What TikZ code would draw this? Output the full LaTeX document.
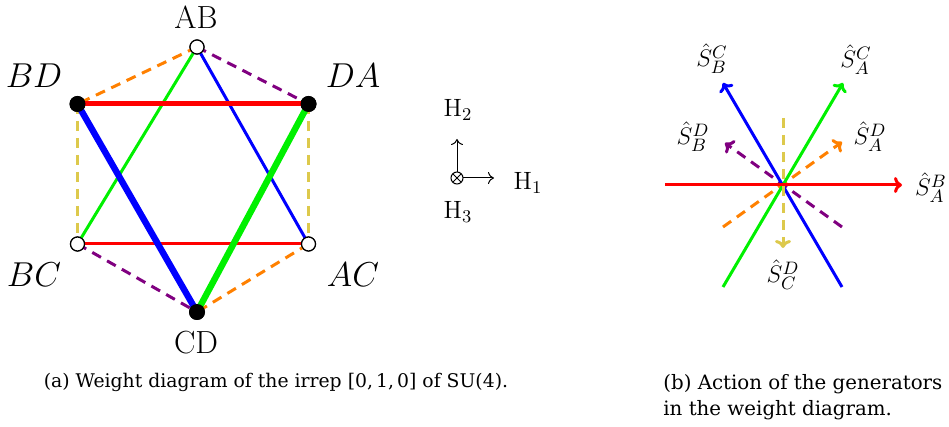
\documentclass[tikz,border=0pt]{standalone}
\usepackage{fontspec}
\newfontfamily\capfont{DejaVu Serif}
\usetikzlibrary{arrows.meta,calc}
\definecolor{cred}{RGB}{255,0,0}
\definecolor{cgreen}{RGB}{0,240,0}
\definecolor{cblue}{RGB}{0,0,255}
\definecolor{corange}{RGB}{255,128,0}
\definecolor{cpurple}{RGB}{128,0,128}
\definecolor{cyellow}{RGB}{221,201,76}
\tikzset{
  openw/.style={circle,draw=black,fill=white,line width=0.6pt,minimum size=7pt,inner sep=0pt},
  fullw/.style={circle,fill=black,minimum size=8pt,inner sep=0pt},
  biglab/.style={inner sep=0pt,font=\fontsize{16}{19}\selectfont},
  smalllab/.style={inner sep=0pt,font=\fontsize{12.5}{15}\selectfont},
  thinl/.style={line width=1.5pt},
  thickl/.style={line width=2.5pt},
  fatl/.style={line width=3.2pt},
  dashl/.style={line width=1.5pt,dash pattern=on 5pt off 3.5pt},
  arr/.style={line width=1.5pt,-{To[length=4pt,width=8pt]}},
  darr/.style={line width=1.5pt,dash pattern=on 5pt off 3.5pt,-{To[length=4pt,width=8pt]}},
  caplab/.style={inner sep=0pt,font=\capfont\fontsize{9.9}{13}\selectfont}
}
\begin{document}
\begin{tikzpicture}[x=0.5pt,y=-0.5pt]
\useasboundingbox (0,0) rectangle (949,427);
% hexagon weights
\node[openw] (AB) at (197,47) {};
\node[fullw] (BD) at (77.5,104) {};
\node[fullw] (DA) at (308.5,104) {};
\node[openw] (BC) at (77.5,244) {};
\node[openw] (AC) at (308.5,244) {};
\node[fullw] (CD) at (197,312) {};
% edges
\draw[dashl,corange] (AB.center) -- (BD.center);
\draw[dashl,corange] (AC.center) -- (CD.center);
\draw[dashl,cpurple] (AB.center) -- (DA.center);
\draw[dashl,cpurple] (BC.center) -- (CD.center);
\draw[dashl,cyellow] (BD.center) -- (BC.center);
\draw[dashl,cyellow] (DA.center) -- (AC.center);
\draw[thinl,cgreen] (AB.center) -- (BC.center);
\draw[thinl,cblue] (AB.center) -- (AC.center);
\draw[thinl,cred] (BC.center) -- (AC.center);
\draw[thickl,cred] (BD.center) -- (DA.center);
\draw[fatl,cblue] (BD.center) -- (CD.center);
\draw[fatl,cgreen] (DA.center) -- (CD.center);
% redraw nodes on top
\node[openw] at (AB) {};
\node[fullw] at (BD) {};
\node[fullw] at (DA) {};
\node[openw] at (BC) {};
\node[openw] at (AC) {};
\node[fullw] at (CD) {};
% labels
\node[biglab] (lAB) at (196,17) {AB};
\node[biglab] (lCD) at (196,343) {CD};
\node[biglab] (lBD) at (34,76) {$BD$};
\node[biglab] (lDA) at (353,76) {$DA$};
\node[biglab] (lBC) at (34,275) {$BC$};
\node[biglab] (lAC) at (353,275) {$AC$};
% axes
\coordinate (O) at (457,178);
\coordinate (Oup) at (457,139);
\coordinate (Ort) at (494,178);
\draw[line width=0.5pt] (O) circle (3pt);
\draw[line width=0.5pt] ($(O)+(-4.2,-4.2)$) -- ($(O)+(4.2,4.2)$);
\draw[line width=0.5pt] ($(O)+(-4.2,4.2)$) -- ($(O)+(4.2,-4.2)$);
\draw[line width=0.5pt,-{To[length=3pt,width=6pt]}] ($(O)+(0,-6)$) -- (Oup);
\draw[line width=0.5pt,-{To[length=3pt,width=6pt]}] ($(O)+(6,0)$) -- (Ort);
\node[smalllab] (H2) at (458,110) {$\mathrm{H}_2$};
\node[smalllab] (H1) at (528,183) {$\mathrm{H}_1$};
\node[smalllab] (H3) at (458,212) {$\mathrm{H}_3$};
% generators
\coordinate (c) at (783,185);
\coordinate (rl) at (665,185);
\coordinate (rr) at (902,185);
\coordinate (bs) at (842,287);
\coordinate (be) at (723,83);
\coordinate (gs) at (723,287);
\coordinate (ge) at (843,83);
\coordinate (ps) at (842,227);
\coordinate (pe) at (725,143);
\coordinate (os) at (723,227);
\coordinate (oe) at (842,142);
\coordinate (ys) at (783,118);
\coordinate (ye) at (783,248);
\draw[darr,cpurple] (ps) -- (pe);
\draw[darr,corange] (os) -- (oe);
\draw[arr,cblue] (bs) -- (be);
\draw[arr,cgreen] (gs) -- (ge);
\draw[arr,cred] (rl) -- (rr);
\draw[darr,cyellow] (ys) -- (ye);
\node[smalllab] (SCB) at (712,59) {$\hat{S}^C_B$};
\node[smalllab] (SCA) at (856,60) {$\hat{S}^C_A$};
\node[smalllab] (SDB) at (693,137) {$\hat{S}^D_B$};
\node[smalllab] (SDA) at (870,137) {$\hat{S}^D_A$};
\node[smalllab] (SBA) at (931,188) {$\hat{S}^B_A$};
\node[smalllab] (SDC) at (783,275) {$\hat{S}^D_C$};
% captions
\node[caplab,font=\capfont\fontsize{9.4}{13}\selectfont] (capa) at (276,382) {(a) Weight diagram of the irrep [0,\,1,\,0] of SU(4).};
\node[caplab,anchor=west,align=left] (capb) at (663,397) {(b) Action of the generators\\in the weight diagram.};
\end{tikzpicture}
\end{document}
